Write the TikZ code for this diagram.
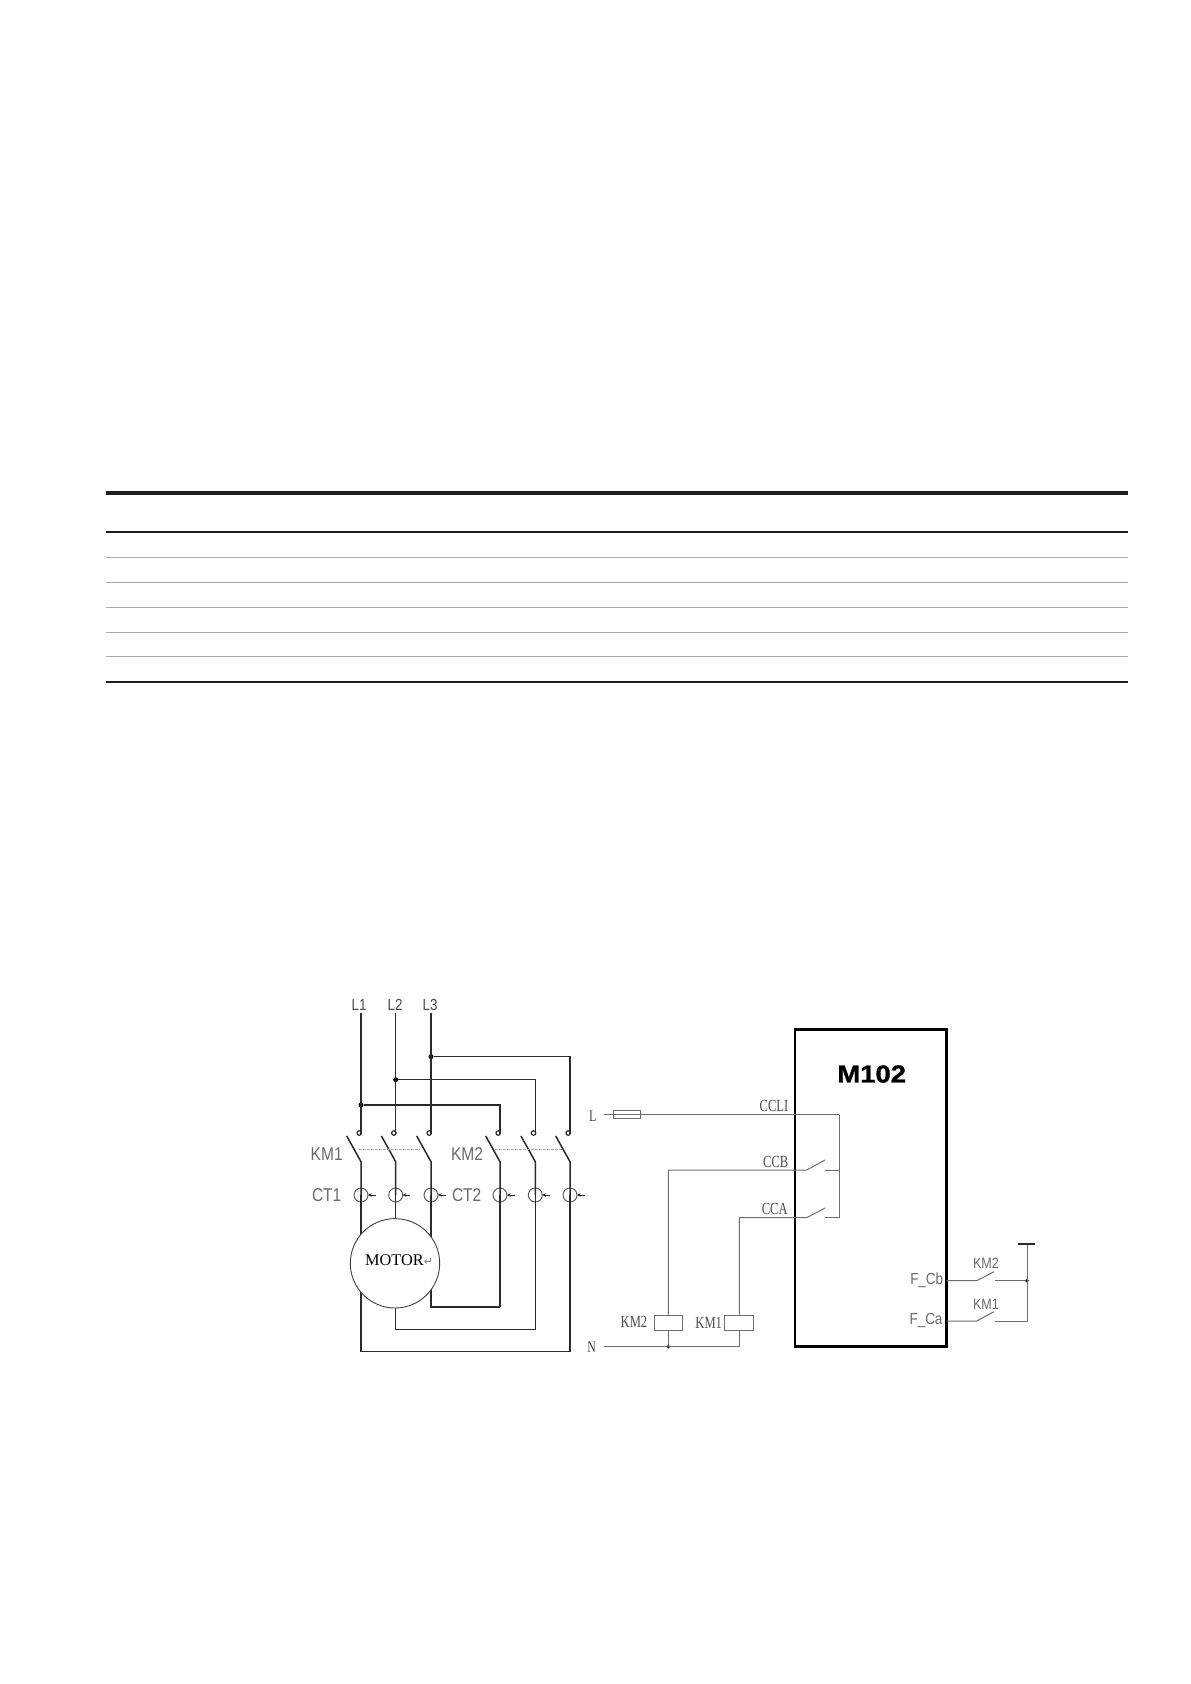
\documentclass[tikz,border=0pt]{standalone}
\usepackage{fontspec}
\setmainfont{Liberation Sans}
\newfontfamily\cadfont[FakeStretch=0.84]{Liberation Sans}
\newfontfamily\serifcond[FakeStretch=0.74]{Liberation Serif}
\newfontfamily\serifplain{Liberation Serif}
\newfontfamily\boldwide[FakeStretch=1.12,FakeBold=1.2]{Liberation Sans Bold}
\newfontfamily\symfont{DejaVu Sans}
\usetikzlibrary{arrows.meta}
\definecolor{wire}{HTML}{2A2A2A}
\definecolor{wiregrey}{HTML}{6E6E6E}
\definecolor{cadtext}{HTML}{6A6A6A}
\definecolor{ruleblack}{HTML}{1E1E1E}
\definecolor{rulegrey}{HTML}{ABABAB}
\tikzset{
  x=1pt,y=-1pt,
  power/.style={draw=wire,line width=1.5pt},
  heavy/.style={draw=wire,line width=2pt},
  ctrl/.style={draw=wiregrey,line width=1pt},
  tie/.style={draw=gray!70,line width=.9pt,dashed,dash pattern=on 3pt off 1pt},
  cadlabel/.style={font=\cadfont\fontsize{18.5}{18.5}\selectfont,text=cadtext,inner sep=0pt},
  cadsmall/.style={font=\cadfont\fontsize{15}{15}\selectfont,text=cadtext,inner sep=0pt},
  cadmid/.style={font=\cadfont\fontsize{16}{16}\selectfont,text=cadtext,inner sep=0pt},
  toplabel/.style={font=\cadfont\fontsize{16}{16}\selectfont,text=black!70,inner sep=0pt},
  serlabel/.style={font=\serifcond\fontsize{17}{17}\selectfont,text=black!70,inner sep=0pt},
  linelabel/.style={font=\serifcond\fontsize{16}{16}\selectfont,text=black!75,inner sep=0pt},
  bigdot/.style={circle,fill=black,inner sep=0pt,minimum size=5pt},
  smalldot/.style={circle,fill=black,inner sep=0pt,minimum size=3.6pt},
  contact/.style={circle,draw=wire,line width=1.2pt,inner sep=0pt,minimum size=4.5pt,outer sep=0pt},
  ct/.style={circle,draw=wire!80,line width=.9pt,inner sep=0pt,minimum size=14pt},
  coil/.style={rectangle,draw=wiregrey,line width=1pt,inner sep=0pt,fill=white},
  ctarrow/.style={draw=wire,line width=.8pt,-{Stealth[length=3.5pt,width=3.5pt]}},
}
\begin{document}
\begin{tikzpicture}
\useasboundingbox (0,0) rectangle (1191,1684);
\fill[white] (0,0) rectangle (1191,1684);
% empty table rules
\foreach \yy/\cc/\ww in {493/ruleblack/4,532/ruleblack/2,557.6/rulegrey/1.2,582.4/rulegrey/1.2,607.3/rulegrey/1.2,632.2/rulegrey/1.2,656.2/rulegrey/1.2,681.7/ruleblack/2}
  \draw[draw=\cc,line width=\ww pt] (106,\yy) -- (1128,\yy);

% --- power section: named points
\foreach \n/\xx in {a/361,b/395.7,c/431,d/500,e/535.3,f/570}{
  \coordinate (top\n) at (\xx,1134);
  \node[contact] (con\n) at (\xx-1.8,1133) {};
  \coordinate (piv\n) at (\xx,1161.7);
  \coordinate (arm\n) at (\xx-14.3,1136);
  \node[ct] (ct\n) at (\xx,1195) {};
  \coordinate (ctq\n) at (\xx+14.5,1195);
  \coordinate (ctp\n) at (\xx+7,1195);
  \draw[power] (arm\n) -- (piv\n) -- (ct\n.center);
  \draw[ctarrow] (ctq\n) -- (ctp\n);
}
\coordinate (l1t) at (361,1012.7);
\coordinate (l2t) at (395.7,1012.7);
\coordinate (l3t) at (431,1012.7);
\node[toplabel] (labL1) at (359,1005) {L1};
\node[toplabel] (labL2) at (395,1005) {L2};
\node[toplabel] (labL3) at (430,1005) {L3};
\node[bigdot] (j1) at (361,1105) {};
\node[bigdot] (j2) at (395.7,1079.7) {};
\node[bigdot] (j3) at (431,1056.7) {};
\draw[power] (l1t) -- (topa);
\draw[power] (l2t) -- (topb);
\draw[power] (l3t) -- (topc);
\draw[power] (j1) -| (topd);
\draw[power] (j2) -| (tope);
\draw[power] (j3) -| (topf);
\draw[tie] (359,1149.3) coordinate (ta1) -- (420,1149.3) coordinate (ta2);
\draw[tie] (495,1149.3) coordinate (tb1) -- (563,1149.3) coordinate (tb2);
% outgoing wires
\coordinate (ba) at (361,1351.3);
\coordinate (bb) at (395.7,1329.3);
\coordinate (bc) at (431,1306.7);
\draw[power] (cta.center) -- (ba) -- (ba-|ctf) -- (ctf.center);
\draw[power] (ctb.center) -- (bb) -- (bb-|cte) -- (cte.center);
\draw[power] (ctc.center) -- (bc);
\draw[heavy] (431,1270) -- (bc) -- (bc-|ctd);
\draw[power] (bc-|ctd) -- (ctd.center);
\node[circle,draw=wire!90,line width=.9pt,fill=white,minimum size=89.4pt,inner sep=0pt] (motor) at (395,1263.3) {};
\node[font=\serifplain\fontsize{16.3}{16.3}\selectfont,text=black,inner sep=0pt,anchor=west] (motorlab) at (365,1260) {MOTOR{\symfont\fontsize{11}{11}\selectfont\textcolor{gray}{↵}}};
\node[cadlabel] (km1lab) at (326.7,1154) {KM1};
\node[cadlabel] (km2lab) at (467,1154) {KM2};
\node[cadlabel] (ct1lab) at (326.7,1195) {CT1};
\node[cadlabel] (ct2lab) at (466.7,1195) {CT2};

% --- control section
\node[draw=black,line width=2.8pt,outer sep=0pt,minimum width=151.3pt,minimum height=317pt,inner sep=0pt,anchor=north west] (m102) at (795,1029.7) {};
\node[font=\boldwide\fontsize{24.5}{24.5}\selectfont,text=black,inner sep=0pt] (m102lab) at (871.7,1074) {M102};
\node[linelabel] (Llab) at (592.7,1116) {L};
\node[linelabel] (Nlab) at (591.7,1347) {N};
\coordinate (Lfree) at (604,1114.7);
\coordinate (Nfree) at (604,1346.7);
\node[rectangle,draw=wiregrey,line width=1pt,minimum width=27.5pt,minimum height=8.5pt,inner sep=0pt] (fuse) at (626.8,1114.7) {};
\coordinate (bus) at (839,1114.7);
\draw[ctrl] (Lfree) -- (bus);
\node[serlabel] (ccli) at (774,1106) {CCLI};
\node[serlabel] (ccb) at (775.7,1162) {CCB};
\node[serlabel] (cca) at (774.7,1209) {CCA};
% CCB contact
\coordinate (bpiv) at (806.7,1170);
\coordinate (barm) at (825,1160);
\coordinate (bfix) at (825,1170);
\coordinate (bbus) at (839,1170);
\coordinate (acor) at (839,1217.7);
\coordinate (apiv) at (806.7,1217.7);
\coordinate (aarm) at (825,1208);
\coordinate (afix) at (825,1217.7);
\node[coil,minimum width=28pt,minimum height=15pt] (coil2) at (668.3,1322.5) {};
\node[coil,minimum width=29pt,minimum height=15pt] (coil1) at (738.8,1322.5) {};
\node[smalldot] (nj) at (668.3,1346.7) {};
\coordinate (nend) at (739.3,1346.7);
\draw[ctrl] (coil2.north) -- (668.3,1170) -- (bpiv) -- (barm);
\draw[ctrl] (bfix) -- (bbus);
\draw[ctrl] (bus) -- (acor) -- (afix);
\draw[ctrl] (coil1.north-|nend) -- (739.3,1217.7) -- (apiv) -- (aarm);
\draw[ctrl] (Nfree) -- (nend) -- (coil1.south-|nend);
\draw[ctrl] (nj) -- (coil2.south);
\node[serlabel] (k2c) at (634,1322) {KM2};
\node[serlabel] (k1c) at (708.7,1323) {KM1};
% F_C contacts
\coordinate (cbp) at (976.7,1280.7);
\coordinate (cba) at (994,1271.7);
\coordinate (cbf) at (995,1280.7);
\coordinate (cap) at (976.7,1321);
\coordinate (caa) at (994,1311.7);
\coordinate (caf) at (995,1321);
\coordinate (cac) at (1027,1321);
\coordinate (cpos) at (1027,1244);
\node[smalldot] (fj) at (1027,1280.7) {};
\draw[ctrl] (m102.east|-cbp) -- (cbp) -- (cba);
\draw[ctrl] (cbf) -- (fj);
\draw[ctrl] (m102.east|-cap) -- (cap) -- (caa);
\draw[ctrl] (caf) -- (cac) -- (cpos);
\draw[draw=wire,line width=2.4pt] (1018.3,1244) coordinate (barl) -- (1035.3,1244) coordinate (barr);
\node[cadsmall] (fk2) at (986,1263.7) {KM2};
\node[cadsmall] (fk1) at (986,1304) {KM1};
\node[cadmid] (fcb) at (926.7,1280) {F\_Cb};
\node[cadmid] (fca) at (926,1320) {F\_Ca};
\end{tikzpicture}
\end{document}
